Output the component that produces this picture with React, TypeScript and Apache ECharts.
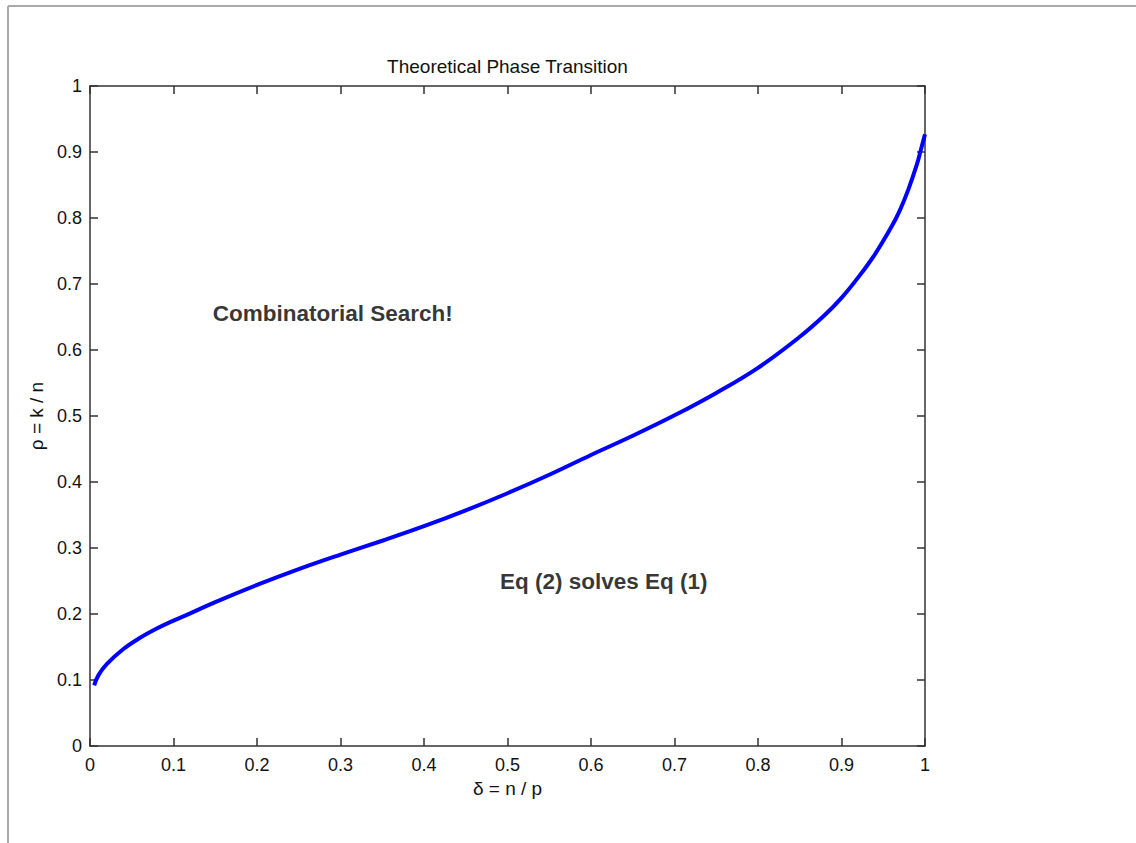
import React, { useEffect, useRef } from "react";
import * as echarts from "echarts";

const deltaValues = [0.005, 0.01, 0.02, 0.04, 0.06, 0.08, 0.1, 0.12, 0.15, 0.2, 0.25, 0.3, 0.35, 0.4, 0.45, 0.5, 0.55, 0.6, 0.65, 0.7, 0.75, 0.8, 0.85, 0.88, 0.9, 0.92, 0.94, 0.96, 0.97, 0.98, 0.99, 0.995, 1.0];
const rhoValues = [0.092, 0.107, 0.124, 0.147, 0.164, 0.178, 0.19, 0.201, 0.218, 0.244, 0.268, 0.29, 0.311, 0.333, 0.357, 0.383, 0.411, 0.441, 0.47, 0.501, 0.535, 0.573, 0.62, 0.653, 0.679, 0.71, 0.745, 0.787, 0.812, 0.843, 0.88, 0.903, 0.927];

const annotationTexts = ["Combinatorial Search!", "Eq (2) solves Eq (1)"];
const annotationX = [0.147, 0.491];
const annotationY = [0.655, 0.25];

const titleText = "Theoretical Phase Transition";
const xAxisName = "δ = n / p";
const yAxisName = "ρ = k / n";

const FONT = "'Liberation Sans', Arial, sans-serif";

export default function App() {
  const ref = useRef<HTMLDivElement>(null);
  useEffect(() => {
    if (!ref.current) return;
    const chart = echarts.init(ref.current, null, { renderer: "svg" });
    const axisLine = { show: true, onZero: false, lineStyle: { color: "#333", width: 1.5 } };
    const tick = { show: true, inside: true, length: 8, lineStyle: { color: "#333", width: 1.5 } };
    const label = { color: "#111", fontFamily: FONT, fontSize: 18 };
    chart.setOption({
      animation: false,
      backgroundColor: "#fff",
      grid: { left: 90, top: 86, width: 835, height: 660, containLabel: false },
      xAxis: [
        {
          type: "value", min: 0, max: 1, interval: 0.1, position: "bottom",
          axisLine, axisTick: tick, splitLine: { show: false },
          axisLabel: { ...label, margin: 10 },
          name: xAxisName, nameLocation: "middle", nameGap: 30,
          nameTextStyle: { color: "#111", fontFamily: FONT, fontSize: 19 },
        },
        {
          type: "value", min: 0, max: 1, interval: 0.1, position: "top",
          axisLine, axisTick: tick, splitLine: { show: false }, axisLabel: { show: false },
        },
      ],
      yAxis: [
        {
          type: "value", min: 0, max: 1, interval: 0.1, position: "left",
          axisLine, axisTick: tick, splitLine: { show: false },
          axisLabel: { ...label, margin: 8 },
          name: yAxisName, nameLocation: "middle", nameGap: 40, nameRotate: 90,
          nameTextStyle: { color: "#111", fontFamily: FONT, fontSize: 19 },
        },
        {
          type: "value", min: 0, max: 1, interval: 0.1, position: "right",
          axisLine, axisTick: tick, splitLine: { show: false }, axisLabel: { show: false },
        },
      ],
      series: [
        {
          type: "line",
          xAxisIndex: 0, yAxisIndex: 0,
          data: deltaValues.map((d, i) => [d, rhoValues[i]]),
          showSymbol: false, symbol: "none", smooth: 0.4,
          lineStyle: { color: "#0000ff", width: 4 },
        },
        {
          type: "scatter",
          xAxisIndex: 0, yAxisIndex: 0,
          symbolSize: 0,
          data: annotationTexts.map((t, i) => ({ value: [annotationX[i], annotationY[i]], name: t })),
          label: {
            show: true, position: "right", distance: 0,
            formatter: (p: any) => p.name,
            color: "#000", fontFamily: FONT, fontSize: 22.5, fontWeight: "bold",
          },
          silent: true,
        },
      ],
      graphic: [
        { type: "line", shape: { x1: 8, y1: 6, x2: 1136, y2: 6 }, style: { stroke: "#aaa", lineWidth: 2 } },
        { type: "line", shape: { x1: 8, y1: 6, x2: 8, y2: 843 }, style: { stroke: "#aaa", lineWidth: 2 } },
        {
          type: "text", x: 507.5, y: 66,
          style: { text: titleText, fill: "#111", font: `19px ${FONT}`, textAlign: "center", textVerticalAlign: "middle" },
        },
      ],
    });
    return () => chart.dispose();
  }, []);
  return <div ref={ref} style={{ position: "fixed", left: 0, top: 0, width: 1136, height: 843 }} />;
}
